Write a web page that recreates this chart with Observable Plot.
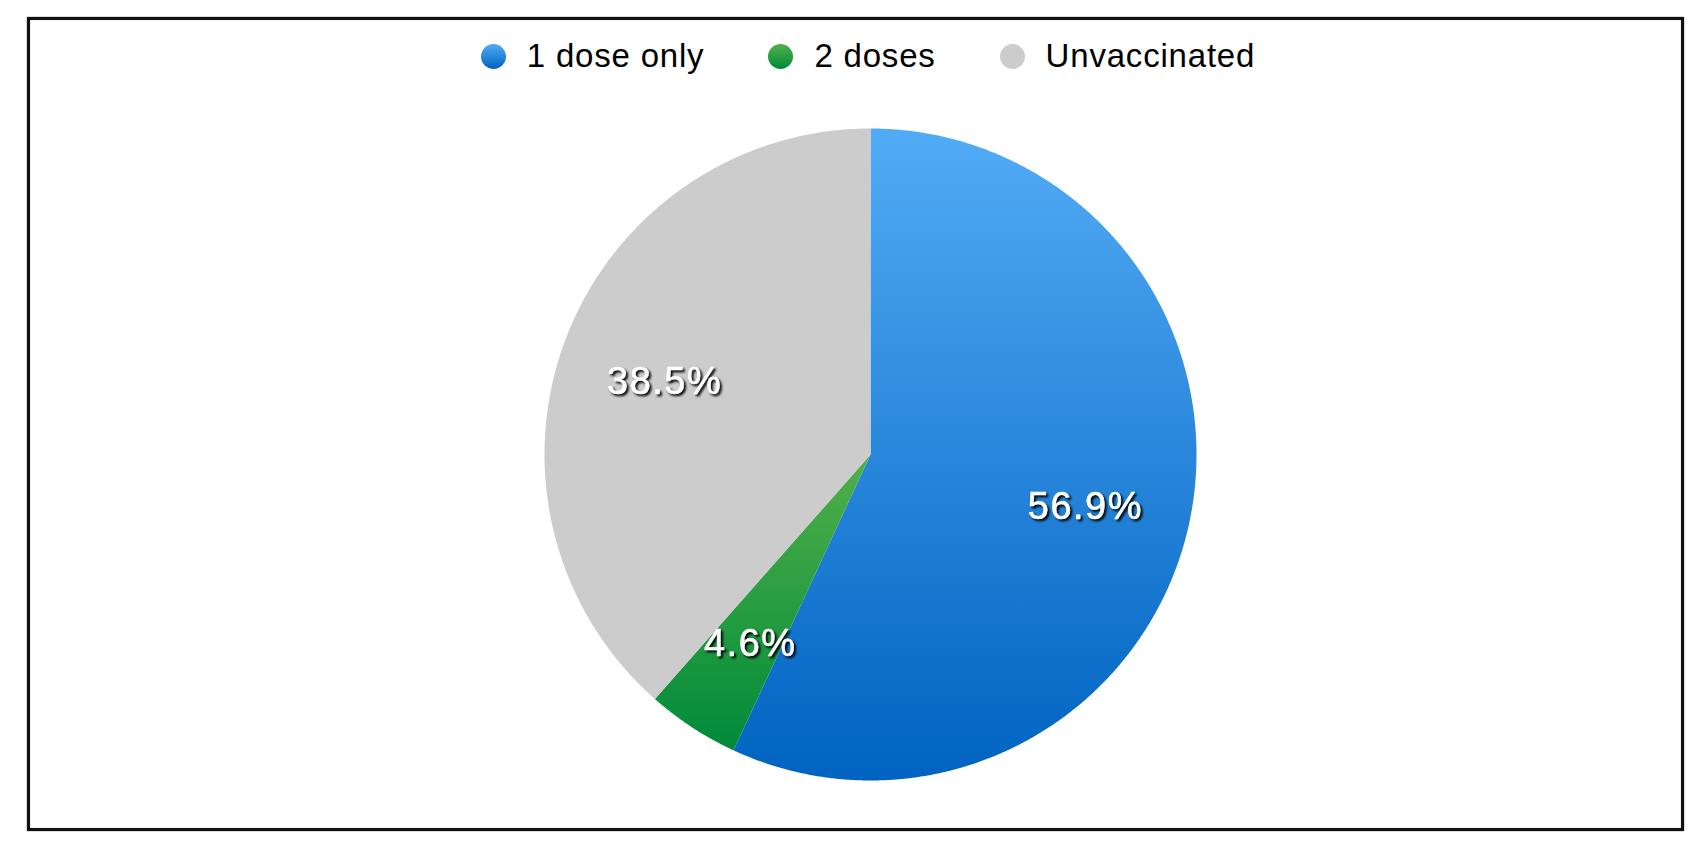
<!DOCTYPE html>
<html><head><meta charset="utf-8">
<script src="https://cdn.jsdelivr.net/npm/d3@7"></script>
<script src="https://cdn.jsdelivr.net/npm/@observablehq/plot@0.6"></script>
<style>
html,body{margin:0;padding:0;background:#fff;overflow:hidden;width:1694px;height:844px;}
#frame{position:absolute;left:27px;top:17px;width:1657px;height:814px;box-sizing:border-box;border:3px solid #111;box-shadow:0 0 1.5px #777, inset 0 0 1px #777;}
#legend{position:absolute;left:0;top:40px;width:1736px;height:32px;display:flex;justify-content:center;align-items:center;font-family:"Liberation Sans",Arial,Helvetica,sans-serif;font-size:33px;letter-spacing:0.8px;color:#000;}
.item{display:flex;align-items:center;margin:0 32px;white-space:nowrap;}
.dot{width:25px;height:25px;border-radius:50%;margin-right:21px;flex:none;}
#chart{position:absolute;left:0;top:100px;}
</style></head><body>
<div id="frame"></div>
<div id="legend"></div>
<div id="chart"></div>
<script>
// Data
const categories = ["1 dose only", "2 doses", "Unvaccinated"];
const shares = [56.9, 4.6, 38.5];
const labels = ["56.9%", "4.6%", "38.5%"];
// Palette (gradient top / bottom)
const topColors = ["#52abf5", "#52b049", "#cccccc"];
const bottomColors = ["#0063c1", "#008a3a", "#cccccc"];

// Legend
const legend = d3.select("#legend");
categories.forEach((c, i) => {
  const it = legend.append("div").attr("class", "item");
  it.append("div").attr("class", "dot")
    .style("background", `linear-gradient(${topColors[i]}, ${bottomColors[i]})`);
  it.append("span").text(c);
});

// Pie geometry derived from the data
const arcs = d3.pie().sort(null).value(d => d)(shares);
const pts = [];
arcs.forEach((p, i) => {
  pts.push({k: categories[i], x: 0, y: 0});
  const n = Math.max(2, Math.ceil((p.endAngle - p.startAngle) / (Math.PI / 720)));
  for (let j = 0; j <= n; j++) {
    const a = p.startAngle + (p.endAngle - p.startAngle) * j / n;
    pts.push({k: categories[i], x: Math.sin(a), y: Math.cos(a)});
  }
  pts.push({k: categories[i], x: 0, y: 0});
});
const labelRadius = 0.675;
const labelData = arcs.map((p, i) => {
  const a = (p.startAngle + p.endAngle) / 2;
  return {k: categories[i], text: labels[i], x: labelRadius * Math.sin(a), y: labelRadius * Math.cos(a)};
});

const R = 326, cx = 870, cy = 354, W = 1694, H = 720;
const chart = Plot.plot({
  width: W, height: H,
  marginLeft: cx - R, marginRight: W - cx - R,
  marginTop: cy - R, marginBottom: H - cy - R,
  x: {domain: [-1, 1], axis: null},
  y: {domain: [-1, 1], axis: null},
  color: {domain: categories, range: categories.map((c, i) => `url(#grad${i})`)},
  style: {background: "transparent", overflow: "visible"},
  marks: [
    Plot.line(pts, {x: "x", y: "y", z: "k", fill: "k", stroke: "none", curve: "linear"}),
    Plot.text(labelData, {x: "x", y: "y", text: "text", fill: "white", fontSize: 38, dy: 5,
      stroke: "white", strokeWidth: 0.6,
      fontFamily: "Liberation Sans, Arial, Helvetica, sans-serif"})
  ]
});
document.getElementById("chart").appendChild(chart);

// gradients (vertical, over each slice's bounding box)
const svg = d3.select(chart);
const defs = svg.insert("defs", ":first-child");
categories.forEach((c, i) => {
  const g = defs.append("linearGradient").attr("id", `grad${i}`)
    .attr("x1", 0).attr("x2", 0).attr("y1", 0).attr("y2", 1);
  g.append("stop").attr("offset", "0%").attr("stop-color", topColors[i]);
  g.append("stop").attr("offset", "100%").attr("stop-color", bottomColors[i]);
});
svg.selectAll("text")
  .style("letter-spacing", "1.5px")
  .style("filter", "drop-shadow(2px 2.5px 1.2px rgba(0,0,0,0.95))");
</script>
</body></html>
